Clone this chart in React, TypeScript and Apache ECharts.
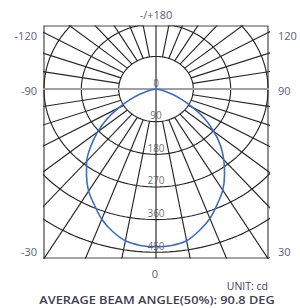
import React, { useEffect, useRef } from "react";
import * as echarts from "echarts";

// Luminous intensity curve (cd) vs. angle (deg, 0 = straight down)
const curveAngles = [
  -90, -85, -80, -75, -70, -65, -60, -55, -50, -45, -40, -35, -30, -25, -20, -15, -10, -5,
  0, 5, 10, 15, 20, 25, 30, 35, 40, 45, 50, 55, 60, 65, 70, 75, 80, 85, 90,
];
const curveIntensity = [
  0, 3, 10, 22, 42, 70, 105, 145, 183, 222, 260, 292, 325, 352, 382, 406, 425, 433,
  435, 433, 425, 404, 380, 350, 322, 288, 254, 220, 182, 144, 104, 70, 42, 22, 10, 3, 0,
];

// Polar grid
const ringValues = [90, 180, 270, 360, 450, 540];
const scaleLabels = ["0", "90", "180", "270", "360", "450"];
const scaleValues = [0, 90, 180, 270, 360, 450];

// Angle labels around the frame
const topLabel = "-/+180";
const bottomLabel = "0";
const leftLabels = ["-120", "-90", "-30"];
const rightLabels = ["120", "90", "30"];
const unitText = "UNIT: cd";
const beamText = "AVERAGE BEAM ANGLE(50%): 90.8 DEG";

const X_MIN = -270;
const X_MAX = 270;
const Y_MIN = -466;
const Y_MAX = 174;

const rad = (d: number) => (d * Math.PI) / 180;
const toXY = (angleDeg: number, r: number) => [r * Math.sin(rad(angleDeg)), -r * Math.cos(rad(angleDeg))];

export default function App() {
  const ref = useRef<HTMLDivElement>(null);

  useEffect(() => {
    if (!ref.current) return;
    const chart = echarts.init(ref.current, undefined, { renderer: "svg" });

    const gridColor = "#262626";
    const series: any[] = [];

    // rings
    ringValues.forEach((r) => {
      const pts: number[][] = [];
      for (let a = 0; a <= 360; a += 2) pts.push(toXY(a, r));
      series.push({
        type: "line",
        data: pts,
        symbol: "none",
        silent: true,
        clip: true,
        lineStyle: { color: gridColor, width: 1.15 },
      });
    });

    // spokes every 10 degrees, starting at inner ring
    for (let a = 0; a < 360; a += 10) {
      if (a === 90 || a === 270) continue;
      const start = a === 0 || a === 180 ? 0 : ringValues[0];
      series.push({
        type: "line",
        data: [toXY(a, start), toXY(a, 800)],
        symbol: "none",
        silent: true,
        clip: true,
        lineStyle: { color: gridColor, width: 1.15 },
      });
    }

    // horizontal axis through centre (grey)
    series.push({
      type: "line",
      data: [toXY(-90, 800), toXY(90, 800)],
      symbol: "none",
      silent: true,
      clip: true,
      lineStyle: { color: "#a0a0a0", width: 2 },
    });

    // intensity curve
    series.push({
      type: "line",
      data: curveAngles.map((a, i) => toXY(a, curveIntensity[i])),
      symbol: "none",
      smooth: 0.3,
      silent: true,
      clip: true,
      lineStyle: { color: "#3a6cc9", width: 1.6 },
      z: 5,
    });

    // scale labels
    series.push({
      type: "scatter",
      data: scaleValues.map((v, i) => ({ value: [0, -v], name: scaleLabels[i] })),
      symbolSize: 1,
      itemStyle: { color: "rgba(0,0,0,0)" },
      silent: true,
      z: 6,
      label: {
        show: true,
        position: "top",
        distance: 1,
        formatter: (p: any) => p.name,
        fontFamily: "Open Sans",
        fontSize: 10,
        color: "#4a4a4a",
      },
    });

    const labelFont = { fontFamily: "Open Sans", fontSize: 11, fill: "#56627a" };
    const leftY = [35, 90, 251];
    const graphics: any[] = [
      { type: "text", x: 156, y: 14, style: { text: topLabel, textAlign: "center", textVerticalAlign: "middle", ...labelFont } },
      { type: "text", x: 155, y: 273, style: { text: bottomLabel, textAlign: "center", textVerticalAlign: "middle", ...labelFont } },
      ...leftLabels.map((t, i) => ({
        type: "text",
        x: 37,
        y: leftY[i],
        style: { text: t, textAlign: "right", textVerticalAlign: "middle", ...labelFont },
      })),
      ...rightLabels.map((t, i) => ({
        type: "text",
        x: 278,
        y: leftY[i],
        style: { text: t, textAlign: "left", textVerticalAlign: "middle", ...labelFont },
      })),
      {
        type: "text",
        x: 268,
        y: 286,
        style: { text: unitText, textAlign: "right", textVerticalAlign: "middle", fontFamily: "Open Sans", fontSize: 10.5, fill: "#3c4152" },
      },
      {
        type: "text",
        x: 157,
        y: 299,
        scaleX: 1.16,
        style: { text: beamText, textAlign: "center", textVerticalAlign: "middle", fontFamily: "Open Sans", fontSize: 11, fontWeight: 600, fill: "#3c4152" },
      },
    ];

    chart.setOption({
      animation: false,
      backgroundColor: "#ffffff",
      grid: { left: 44, right: 32, top: 26, bottom: 50, show: true, borderColor: "#4a4a4a", borderWidth: 1.2, backgroundColor: "transparent" },
      xAxis: { type: "value", min: X_MIN, max: X_MAX, show: false },
      yAxis: { type: "value", min: Y_MIN, max: Y_MAX, show: false },
      series,
      graphic: graphics,
    });

    return () => chart.dispose();
  }, []);

  return <div ref={ref} style={{ position: "fixed", left: 0, top: 0, width: 300, height: 308 }} />;
}
